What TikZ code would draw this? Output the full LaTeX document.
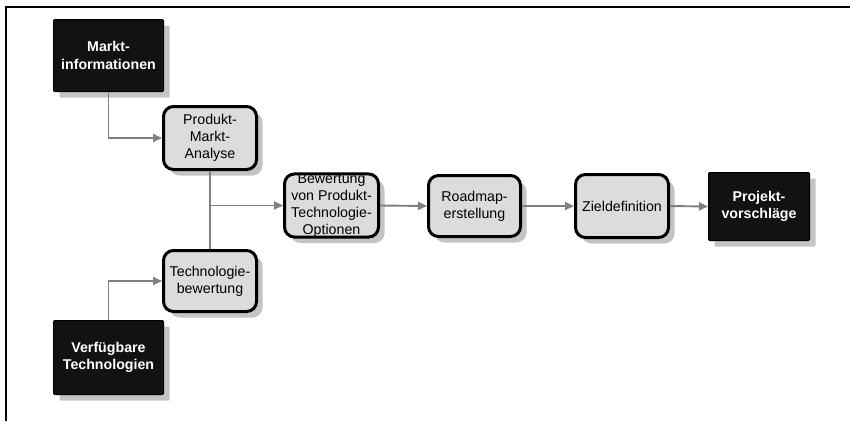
\documentclass[tikz,border=0pt]{standalone}
\usepackage{fontspec}
\setmainfont{Liberation Sans}
\usetikzlibrary{arrows.meta,shadows}
\definecolor{boxgrey}{HTML}{DCDCDC}
\definecolor{linegrey}{HTML}{808080}
\definecolor{shadowgrey}{HTML}{C4C4C4}
\tikzset{
  stepshadow/.style={drop shadow={shadow xshift=6bp,shadow yshift=-6bp,fill=shadowgrey,opacity=1}},
  process/.style={draw=black,line width=3bp,fill=boxgrey,rounded corners=10bp,
    align=center,inner sep=0pt,font=\fontsize{14.2bp}{16.8bp}\selectfont,stepshadow},
  source/.style={draw=black,line width=1bp,fill=black!93,rounded corners=1bp,text=white,
    align=center,inner sep=0pt,font=\fontsize{14.2bp}{17.5bp}\selectfont\bfseries,stepshadow},
  conn/.style={draw=linegrey,line width=1.9bp,-{Triangle[length=9bp,width=8bp]}},
  plain/.style={draw=linegrey,line width=1.9bp}
}
\begin{document}
\begin{tikzpicture}[x=1bp,y=-1bp]
\useasboundingbox (0,0) rectangle (850,421);
% frame edges
\draw[line width=1.6bp] (6,421) -- (6,7) -- (850,7);

% input sources
\node[source,minimum width=110bp,minimum height=72bp] (mi) at (108.5,55.5) {Markt-\\informationen};
\node[source,minimum width=110bp,minimum height=74bp] (vt) at (108.5,357.5) {Verfügbare\\Technologien};

% analysis steps
\node[process,minimum width=93bp,minimum height=63bp] (pma) at (210,138) {Produkt-\\Markt-\\Analyse};
\node[process,minimum width=93bp,minimum height=61bp] (tb) at (210,281) {Technologie-\\bewertung};
\node[process,minimum width=94bp,minimum height=62bp] (bew) at (331.5,205.5) {Bewertung\\von Produkt-\\Technologie-\\Optionen};
\node[process,minimum width=92bp,minimum height=61bp] (rm) at (474.5,206) {Roadmap-\\erstellung};
\node[process,minimum width=93bp,minimum height=63bp] (zd) at (622,206) {Zieldefinition};

% result
\node[source,minimum width=101bp,minimum height=68bp] (pv) at (759,206.5) {Projekt-\\vorschläge};

% connectors
\draw[conn] (mi.south) |- (pma.west);
\draw[conn] (vt.north) |- (tb.west);
\draw[plain] (pma.south) -- (tb.north);
\coordinate (join) at (pma.south |- bew.west);
\draw[conn] (join) -- (bew.west);
\draw[conn] (bew.east) -- (rm.west);
\draw[conn] (rm.east) -- (zd.west);
\draw[conn] (zd.east) -- (pv.west);
\end{tikzpicture}
\end{document}
